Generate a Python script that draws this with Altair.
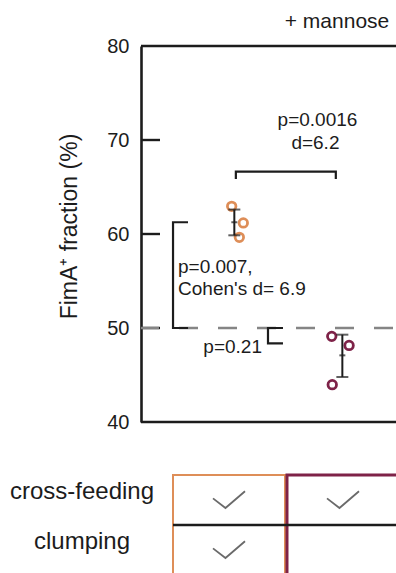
import altair as alt
import pandas as pd

FONT = "Liberation Sans"
INK = "#1c1c1c"

# ---- y axis -------------------------------------------------------------
y_ticks = [40, 50, 60, 70, 80]
inner_ticks = [50, 60, 70]
frame_levels = [40, 80]
ref_level = 50

# ---- groups -------------------------------------------------------------
groups = ["no mannose", "+ mannose"]
group_colors = ["#DE8E58", "#7E2248"]
group_border = [2, 3]
column_header = ["", "+ mannose"]

# replicate measurements (x = jittered position around group 1 / group 2)
orange_x = [0.959, 1.073, 1.034]
orange_y = [62.95, 61.18, 59.65]
purple_x = [1.940, 2.110, 1.945]
purple_y = [49.11, 48.15, 43.97]

# mean with error bar
err_x = [0.985, 2.044]
err_mean = [61.25, 47.09]
err_lo = [59.86, 44.79]
err_hi = [62.60, 49.29]

# significance brackets (drawn as polylines)
bracket_id = ["a"] * 4 + ["b"] * 4 + ["c"] * 4
bracket_x = [1.00, 1.00, 1.98, 1.98,
             0.531, 0.384, 0.384, 0.531,
             1.462, 1.315, 1.315, 1.462]
bracket_y = [65.85, 66.63, 66.63, 65.85,
             61.25, 61.25, 50.0, 50.0,
             50.0, 50.0, 48.37, 48.37]

# statistics text
note_text = ["p=0.0016", "d=6.2", "p=0.007,", "Cohen's d= 6.9", "p=0.21"]
note_x = [1.80, 1.78, 0.433, 0.433, 1.256]
note_y = [71.49, 69.0, 55.82, 53.5, 47.3]
note_align = ["center", "center", "left", "left", "right"]

# condition table
features = ["cross-feeding", "clumping"]
feature_present = {"no mannose": [True, True], "+ mannose": [True, False]}

# ---- data frames --------------------------------------------------------
points = pd.DataFrame({
    "x": orange_x + purple_x,
    "y": orange_y + purple_y,
    "group": [groups[0]] * len(orange_x) + [groups[1]] * len(purple_x),
})
errs = pd.DataFrame({"x": err_x, "mean": err_mean, "lo": err_lo, "hi": err_hi})
brackets = pd.DataFrame({"id": bracket_id, "x": bracket_x, "y": bracket_y,
                         "order": list(range(len(bracket_x)))})
notes = pd.DataFrame({"text": note_text, "x": note_x, "y": note_y, "align": note_align})
table = pd.DataFrame([
    {"group": g, "feature": f, "present": feature_present[g][i]}
    for g in groups for i, f in enumerate(features)
])
columns = pd.DataFrame({"group": groups, "header": column_header, "border": group_border})

# ---- shared encodings for the measurement panel ------------------------
X_SCALE = alt.Scale(domain=[0.07, 2.57], nice=False, zero=False)
Y_SCALE = alt.Scale(domain=[40, 80], nice=False, zero=False)
Y_AXIS = alt.Axis(
    values=y_ticks, ticks=False, tickSize=0, grid=False,
    domain=True, domainColor=INK, domainWidth=2.6,
    labelFontSize=20, labelColor=INK, labelPadding=12, labelFont=FONT,
    title="FimA\u207a fraction (%)", titleFontSize=23, titleFontWeight="normal",
    titleColor=INK, titleFont=FONT, titleAngle=270, titleX=-72, titleY=180,
    titleAlign="center", titleBaseline="middle",
)


def X(field):
    return alt.X(field, type="quantitative", scale=X_SCALE, axis=None)


def Y(field):
    return alt.Y(field, type="quantitative", scale=Y_SCALE, axis=Y_AXIS)


levels = pd.DataFrame({"v": frame_levels})
ref = pd.DataFrame({"v": [ref_level]})
ticks = pd.DataFrame({"v": inner_ticks})

frame = alt.Chart(levels).mark_rule(color=INK, strokeWidth=2.6).encode(y=Y("v"))
inward_ticks = alt.Chart(ticks).mark_rule(color=INK, strokeWidth=2.4).encode(
    y=Y("v"), x=alt.value(0), x2=alt.value(19))
dashed = alt.Chart(ref).mark_rule(
    color="#858585", strokeWidth=2.4, strokeDash=[19, 20], strokeDashOffset=-3
).encode(y=Y("v"))

bracket_lines = alt.Chart(brackets).mark_line(
    color=INK, strokeWidth=2.2, strokeJoin="miter", strokeCap="butt"
).encode(x=X("x"), y=Y("y"), detail="id:N", order="order:Q")

err_rule = alt.Chart(errs).mark_rule(color=INK, strokeWidth=2).encode(
    x=X("x"), y=Y("lo"), y2="hi")
cap_lo = alt.Chart(errs).mark_tick(orient="horizontal", size=12, thickness=2, color=INK).encode(
    x=X("x"), y=Y("lo"))
cap_hi = alt.Chart(errs).mark_tick(orient="horizontal", size=12, thickness=2, color=INK).encode(
    x=X("x"), y=Y("hi"))
mean_tick = alt.Chart(errs).mark_tick(orient="horizontal", size=6, thickness=2, color=INK).encode(
    x=X("x"), y=Y("mean"))

dots = alt.Chart(points).mark_point(filled=False, size=72, strokeWidth=2.8, opacity=1).encode(
    x=X("x"), y=Y("y"),
    color=alt.Color("group:N", scale=alt.Scale(domain=groups, range=group_colors), legend=None),
)


def note_layer(align):
    return alt.Chart(notes).transform_filter(alt.datum.align == align).mark_text(
        align=align, baseline="alphabetic", fontSize=19, font=FONT, color=INK
    ).encode(x=X("x"), y=Y("y"), text="text:N")


panel = alt.layer(
    frame, inward_ticks, dashed, bracket_lines, dots, err_rule, cap_lo, cap_hi, mean_tick,
    note_layer("center"), note_layer("left"), note_layer("right"),
)

# ---- condition table under the panel -----------------------------------
TX = alt.X("group:N", scale=alt.Scale(domain=groups, range=[32, 258],
                                      paddingInner=0.0175, paddingOuter=0), axis=None)
TY_SCALE = alt.Scale(domain=features, range=[429, 529], paddingInner=0, paddingOuter=0)
CHECK = "M -1 -0.1 L -0.22 0.5 L 1 -0.55"

col_boxes = alt.Chart(columns).mark_rect(fillOpacity=0).encode(
    x=TX, y=alt.value(429), y2=alt.value(640),
    stroke=alt.Stroke("group:N", scale=alt.Scale(domain=groups, range=group_colors), legend=None),
    strokeWidth=alt.StrokeWidth("border:Q", scale=None),
)
row_line = alt.Chart(pd.DataFrame({"feature": features[1:]})).mark_rule(
    color=INK, strokeWidth=2.4
).encode(y=alt.Y("feature:N", scale=TY_SCALE, axis=None, bandPosition=0),
         x=alt.value(32), x2=alt.value(255))
checks = alt.Chart(table).transform_filter(alt.datum.present).mark_point(
    shape=CHECK, size=1024, filled=False, color="#6a6a6a", strokeWidth=1.8, opacity=1
).encode(x=TX, y=alt.Y("feature:N", scale=TY_SCALE, axis=None))
row_labels = alt.Chart(pd.DataFrame({"feature": features})).mark_text(
    align="center", baseline="alphabetic", fontSize=24, font=FONT, color=INK, dy=-1
).encode(x=alt.value(-59), y=alt.Y("feature:N", scale=TY_SCALE, axis=None), text="feature:N")
headers = alt.Chart(columns).transform_filter(alt.datum.header != "").mark_text(
    align="center", baseline="alphabetic", fontSize=21, font=FONT, color=INK, dx=-6
).encode(x=TX, y=alt.value(-18), text="header:N")

conditions = alt.layer(col_boxes, row_line, checks, row_labels, headers)

chart = alt.layer(panel, conditions).resolve_scale(
    x="independent", y="independent"
).properties(
    width=255, height=376,
    padding={"left": 141, "top": 46, "right": 0, "bottom": 151},
    autosize=alt.AutoSizeParams(type="none"),
    background="white",
).configure(font=FONT).configure_view(stroke=None)

chart.save("out.html", embed_options={"renderer": "svg", "actions": False})
